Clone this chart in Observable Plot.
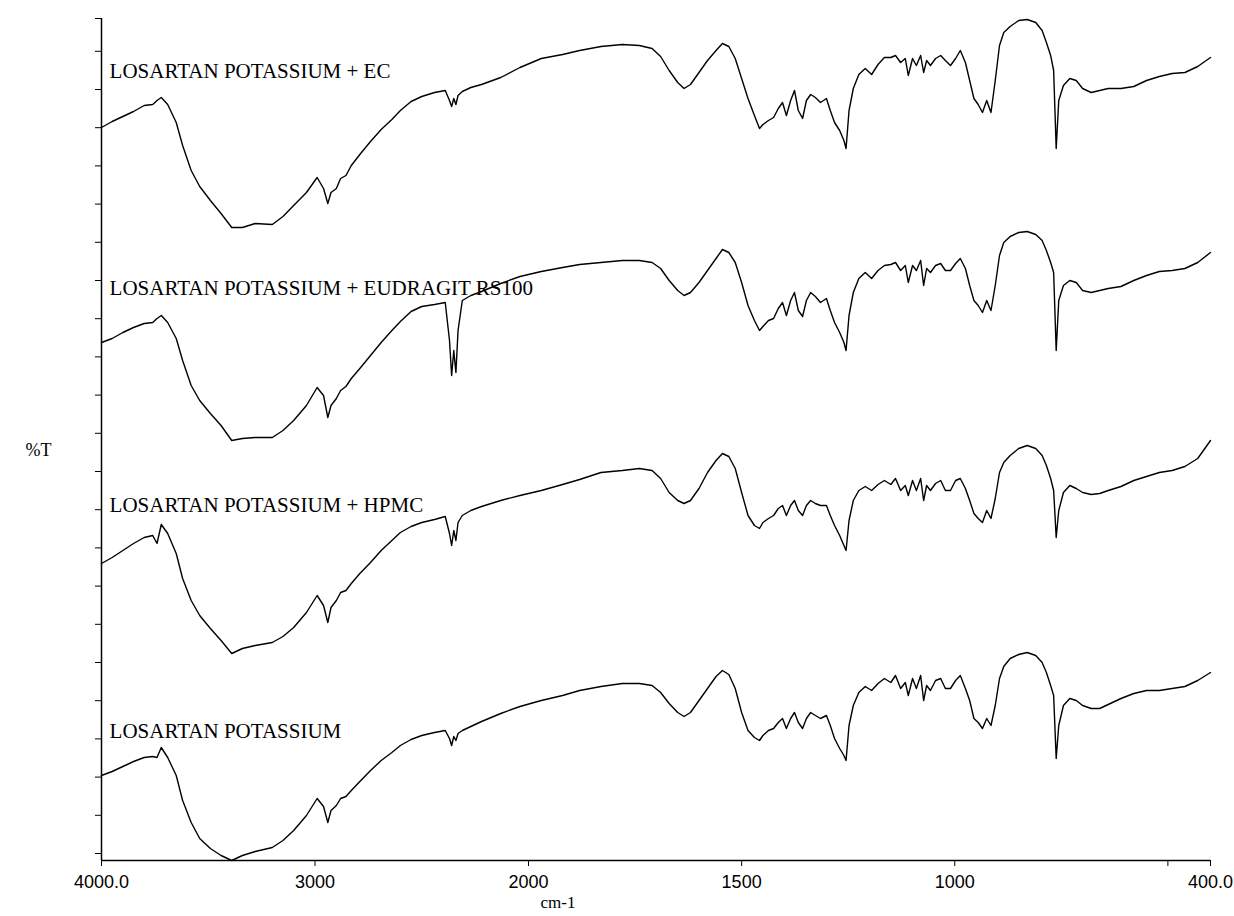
<!DOCTYPE html>
<html>
<head>
<meta charset="utf-8">
<script src="https://cdn.jsdelivr.net/npm/d3@7"></script>
<script src="https://cdn.jsdelivr.net/npm/@observablehq/plot@0.6"></script>
<style>
  html, body { margin: 0; padding: 0; background: #fff; }
  #chart svg { display: block; }
</style>
</head>
<body>
<div id="chart"></div>
<script>
// Wavenumber grid (cm-1), shared by all four spectra
const wavenumbers = [
  4000,3950,3900,3850,3800,3760,3740,3720,3690,3650,
  3620,3580,3540,3490,3440,3390,3340,3280,3200,3150,
  3100,3040,2990,2960,2940,2925,2900,2880,2855,2830,
  2790,2740,2690,2640,2600,2550,2500,2440,2390,2370,
  2360,2350,2340,2330,2310,2270,2220,2130,2040,
  1970,1920,1880,1830,1780,1740,1710,1690,1670,1650,
  1635,1620,1600,1580,1560,1545,1530,1515,1500,1485,
  1470,1458,1450,1437,1425,1414,1404,1395,1385,1376,
  1367,1357,1348,1338,1327,1315,1301,1292,1282,1270,
  1260,1255,1248,1238,1225,1210,1195,1180,1165,1150,
  1139,1127,1116,1109,1099,1090,1080,1073,1066,1057,
  1045,1033,1022,1010,998,987,975,965,955,945,
  935,925,915,905,895,885,870,850,830,810,
  795,785,775,768,762,756,745,730,715,700,
  680,660,640,610,580,550,520,490,460,430,
  400
];

// %T (offset, stacked) for each spectrum
const ecT = [
  74.3,74.9,75.4,75.9,76.5,76.6,77.0,77.3,76.6,74.8,
  72.5,70.0,68.4,67.0,65.7,64.3,64.3,64.7,64.6,65.4,
  66.5,67.8,69.3,68.2,66.7,67.8,68.2,69.2,69.5,70.5,
  71.6,72.9,74.1,75.1,76.0,76.9,77.4,77.8,78.0,77.0,
  76.4,77.2,76.6,77.5,77.9,78.3,78.6,79.3,80.3,
  81.2,81.6,82.0,82.4,82.6,82.5,82.2,81.4,80.0,78.8,
  78.2,78.6,79.8,81.0,82.0,82.7,82.4,81.2,79.2,77.2,
  75.5,74.2,74.6,75.0,75.3,76.2,76.8,75.5,77.0,78.0,
  76.0,75.2,77.0,77.6,77.3,76.8,77.2,76.0,74.8,74.0,
  73.0,72.2,76.0,78.2,79.6,80.2,79.6,80.6,81.3,81.3,
  81.5,80.8,81.2,79.5,81.2,80.5,81.5,79.8,81.0,80.5,
  81.2,81.5,81.0,80.5,81.2,82.0,80.8,79.0,77.2,76.6,
  75.8,77.0,75.8,79.0,82.5,83.8,84.4,85.0,85.1,84.8,
  84.0,82.8,81.5,80.0,72.2,77.0,78.5,79.2,79.0,78.2,
  77.8,78.0,78.2,78.2,78.4,79.0,79.4,79.7,79.8,80.4,
  81.3
];
const eudragitT = [
  52.8,53.2,53.8,54.3,54.7,54.8,55.2,55.5,54.8,53.2,
  51.0,48.5,47.0,45.7,44.5,43.0,43.2,43.3,43.3,44.0,
  45.0,46.5,48.3,47.5,45.3,46.5,47.2,48.0,48.4,49.2,
  50.2,51.5,52.8,54.0,54.9,55.9,56.4,56.6,56.8,53.0,
  49.5,52.0,49.8,54.0,57.0,57.5,57.9,58.7,59.4,
  59.9,60.3,60.6,60.8,61.0,61.0,60.8,60.2,59.0,58.0,
  57.5,57.8,58.8,60.0,61.2,62.1,61.8,60.8,58.8,56.5,
  55.0,54.0,54.4,55.0,55.2,56.2,56.8,55.5,57.0,57.8,
  56.0,55.4,57.0,57.8,57.4,56.8,57.2,56.0,54.8,53.8,
  52.8,52.0,55.5,57.8,59.2,59.8,59.2,60.0,60.5,60.6,
  60.8,60.0,60.5,58.8,60.5,60.0,61.0,58.5,60.2,59.8,
  60.5,60.7,60.0,60.0,60.7,61.2,60.2,58.5,57.0,56.5,
  55.8,57.0,56.0,58.5,61.5,62.8,63.4,63.8,63.9,63.6,
  63.0,62.0,60.8,59.8,52.0,57.0,58.5,59.0,58.8,58.0,
  57.8,58.0,58.2,58.4,59.0,59.5,59.9,60.0,60.2,60.8,
  61.8
];
const hpmcT = [
  30.7,31.3,32.0,32.7,33.3,33.5,32.7,34.6,33.7,31.7,
  29.2,27.0,25.5,24.2,23.0,21.7,22.2,22.5,22.8,23.4,
  24.3,25.8,27.5,26.5,24.8,26.3,27.0,27.8,28.0,28.7,
  29.7,30.8,32.0,33.0,33.8,34.4,34.8,35.1,35.4,33.7,
  32.5,34.0,33.0,34.8,35.5,36.0,36.4,37.0,37.5,
  38.0,38.6,39.1,39.8,40.0,40.2,40.0,39.2,37.8,37.0,
  36.7,37.0,38.2,39.8,41.0,41.7,41.4,40.2,37.8,35.5,
  34.5,34.2,34.8,35.2,35.5,36.2,36.5,35.5,36.5,37.0,
  36.0,35.5,36.5,37.0,36.7,36.5,36.5,35.5,34.5,33.5,
  32.5,32.0,35.0,37.0,38.0,38.4,38.0,38.6,39.0,38.6,
  39.2,38.0,38.5,37.5,39.0,38.0,39.2,37.0,38.5,38.0,
  38.7,39.0,38.0,38.0,39.0,39.2,38.2,37.0,35.7,35.2,
  34.8,36.0,35.2,37.2,39.8,40.8,41.5,42.2,42.5,42.2,
  41.5,40.5,39.2,38.0,33.3,36.0,37.8,38.5,38.2,37.8,
  37.6,37.7,38.0,38.4,39.0,39.4,39.8,40.0,40.4,41.2,
  43.0
];
const losartanT = [
  9.5,9.9,10.4,10.9,11.3,11.4,11.3,12.3,11.3,9.5,
  7.0,4.8,3.2,2.2,1.5,1.0,1.5,1.9,2.3,3.0,
  4.0,5.5,7.2,6.4,4.8,6.0,6.5,7.2,7.4,8.0,
  8.9,10.0,11.0,11.8,12.5,13.1,13.5,13.8,14.0,13.2,
  12.5,13.4,13.0,13.7,14.0,14.4,14.9,15.7,16.4,
  17.0,17.5,18.0,18.4,18.7,18.7,18.5,17.8,16.7,15.8,
  15.4,15.8,17.0,18.2,19.4,20.0,19.6,18.2,15.8,14.0,
  13.3,13.0,13.5,14.0,14.2,14.8,15.2,14.2,15.2,15.8,
  14.8,14.2,15.2,15.8,15.5,15.2,15.5,14.5,13.2,12.2,
  11.5,11.0,14.5,16.5,17.8,18.4,18.0,18.7,19.2,18.8,
  19.5,18.2,18.8,17.5,19.2,18.2,19.5,17.0,18.5,18.0,
  19.0,19.2,18.2,18.2,19.0,19.5,18.2,17.0,15.2,14.8,
  14.2,15.2,14.5,16.5,19.2,20.4,21.2,21.6,21.8,21.5,
  20.8,19.8,18.5,17.5,11.2,14.5,16.5,17.2,17.0,16.5,
  16.2,16.2,16.6,17.2,17.7,18.0,18.0,18.2,18.4,19.0,
  19.8
];

const seriesNames = [
  "LOSARTAN POTASSIUM + EC",
  "LOSARTAN POTASSIUM + EUDRAGIT RS100",
  "LOSARTAN POTASSIUM + HPMC",
  "LOSARTAN POTASSIUM"
];
const seriesValues = [ecT, eudragitT, hpmcT, losartanT];

// Axis ticks
const xTicks = [4000, 3000, 2000, 1500, 1000, 400];
const xTickLabels = ["4000.0", "3000", "2000", "1500", "1000", "400.0"];
const xMinorTicks = [500];
const yTicks = [1.7,5.52,9.34,13.16,16.98,20.8,24.62,28.44,32.26,36.08,39.9,
  43.72,47.54,51.36,55.18,59.0,62.82,66.64,70.46,74.28,78.1,81.92,85.2];

// tidy table
const data = seriesNames.flatMap((name, i) =>
  wavenumbers.map((w, j) => ({series: name, w, t: seriesValues[i][j]})));

const labelPos = seriesNames.map((name, i) => ({name, t: [79.9, 58.2, 36.5, 13.9][i]}));
const tickLabelOf = new Map(xTicks.map((t, i) => [t, xTickLabels[i]]));

const serif = "'Liberation Serif', 'Times New Roman', serif";
const sans = "'Liberation Sans', Arial, sans-serif";

const chart = Plot.plot({
  width: 1234,
  height: 916,
  marginLeft: 101,
  marginRight: 24,
  marginTop: 18,
  marginBottom: 56,
  style: {background: "#fff", color: "#000"},
  x: {type: "linear", domain: [4000, 2000, 400], range: [101, 528, 1210]},
  y: {type: "linear", domain: [1, 85.2], range: [860, 18]},
  marks: [
    Plot.ruleY([1], {x1: 4000, x2: 400, stroke: "#000", strokeWidth: 1.5}),
    Plot.ruleX([4000], {y1: 1, y2: 85.2, stroke: "#000", strokeWidth: 1.5}),
    Plot.axisX({ticks: xTicks, tickFormat: d => tickLabelOf.get(d), tickSize: 6, tickPadding: 9,
      fontSize: 18, fontFamily: sans, label: null, stroke: "#000"}),
    Plot.axisX({ticks: xMinorTicks, tickFormat: () => "", tickSize: 6, label: null, stroke: "#000"}),
    Plot.axisY({ticks: yTicks, tickFormat: () => "", tickSize: 6, label: null, stroke: "#000"}),
    Plot.line(data, {x: "w", y: "t", z: "series", stroke: "#000", strokeWidth: 1.4, curve: "linear"}),
    Plot.text(labelPos, {x: 3962, y: "t", text: "name", textAnchor: "start",
      fontSize: 21, fontFamily: serif, fill: "#000"}),
    Plot.text(["%T"], {frameAnchor: "left", dx: -76, dy: 11, fontSize: 18, fontFamily: serif, fill: "#000"}),
    Plot.text(["cm-1"], {frameAnchor: "bottom", dx: -98, dy: 47, fontSize: 17, fontFamily: serif, fill: "#000"})
  ]
});
document.getElementById("chart").appendChild(chart);
</script>
</body>
</html>
